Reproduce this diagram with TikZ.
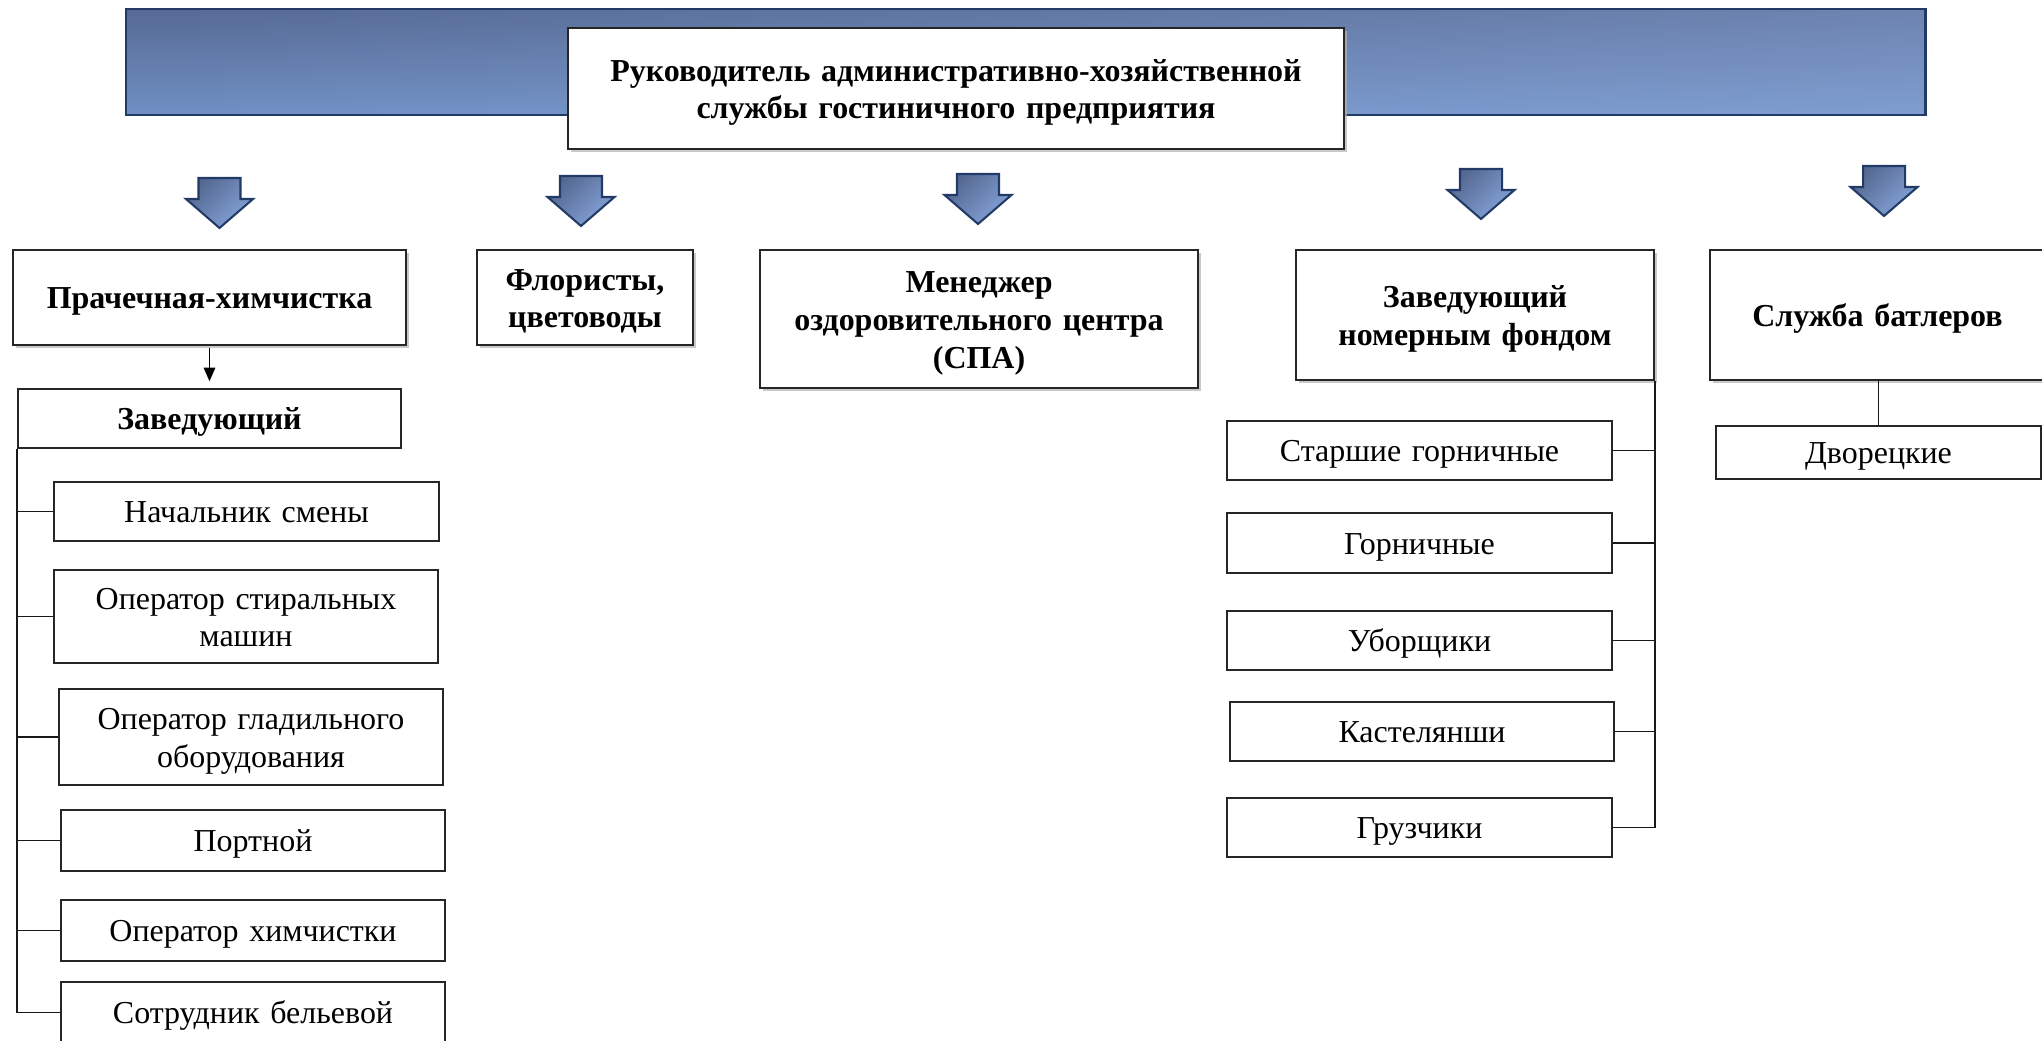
\documentclass[tikz,border=0pt]{standalone}
\usepackage{fontspec}
\setmainfont{Liberation Serif}
\usetikzlibrary{positioning, shadows, arrows.meta, fadings}
\definecolor{bantop}{HTML}{566A94}
\definecolor{banbottom}{HTML}{7090C4}
\definecolor{banglow}{HTML}{A0BCEE}
\definecolor{bandark}{HTML}{53678F}
\definecolor{banlight}{HTML}{86A4DA}
\definecolor{bannavy}{HTML}{213A66}
\tikzfading[name=banfade, left color=transparent!100, right color=transparent!68]

\begin{document}
\begin{tikzpicture}[x=0.0154cm, y=-0.0154cm, line width=0.7pt,
    > = {Triangle[length=6pt, width=5pt]},
    sz/.style 2 args = {minimum width=#1*0.0154cm, minimum height=#2*0.0154cm, text width=(#1-14)*0.0154cm},
    txtpad/.style = {execute at begin node={\rule{0pt}{13pt}}, execute at end node={\rule[-3pt]{0pt}{3pt}}},
    headbox/.style = {draw=black!85, fill=white, align=center, inner sep=2pt, txtpad,
        font=\fontsize{14}{16.5}\selectfont\bfseries,
        drop shadow={shadow xshift=1.2pt, shadow yshift=-1.2pt, fill=black!30, opacity=0.7}},
    unitbox/.style = {draw=black!85, fill=white, align=center, inner sep=2pt, txtpad,
        font=\fontsize{14}{16.5}\selectfont},
    link/.style = {draw=black!90, line width=0.8pt},
    bigarrow/.pic = {\draw[bannavy, line width=0.9pt, top color=bandark, bottom color=banlight, shading angle=45]
        (-21,0) -- (21,0) -- (21,21) -- (33.5,21) -- (0,50) -- (-33.5,21) -- (-21,21) -- cycle;},
  ]
    \useasboundingbox (0,0) rectangle (2042,1040);

    % banner and head
    \shade[top color=bantop, bottom color=banbottom] (126,9) rectangle (1925,115);
    \fill[banglow, path fading=banfade] (126,9) rectangle (1925,115);
    \draw[bannavy, line width=1.3pt] (126,9) rectangle (1925,115);
    \node[headbox, sz={776}{121}] (boss) at (956,88.5) {Руководитель административно-хозяйственной\\службы гостиничного предприятия};

    \pic at (219.5,178) {bigarrow};
    \pic at (581,176) {bigarrow};
    \pic at (978,174) {bigarrow};
    \pic at (1481,169) {bigarrow};
    \pic at (1884,166) {bigarrow};

    % first level
    \node[headbox, sz={393}{95}] (laundry) at (209.5,297.5) {Прачечная-химчистка};
    \node[headbox, sz={216}{95}] (florist) at (585,297.5) {Флористы,\\цветоводы};
    \node[headbox, sz={438}{138}] (spa) at (979,319) {Менеджер\\оздоровительного центра\\(СПА)};
    \node[headbox, sz={358}{130}] (rooms) at (1475,315) {Заведующий\\номерным фондом};
    \node[headbox, sz={335}{130}] (butler) at (1877.5,315) {Служба батлеров};

    % laundry staff
    \node[unitbox, sz={383}{59}, font=\fontsize{14}{16.5}\selectfont\bfseries] (lhead) at (209.5,418.5) {Заведующий};
    \node[unitbox, sz={385}{59}] (shift) at (246.5,511.5) {Начальник смены};
    \node[unitbox, sz={384}{93}] (washer) at (246,616.5) {Оператор стиральных\\машин};
    \node[unitbox, sz={384}{96}] (ironer) at (251,737) {Оператор гладильного\\оборудования};
    \node[unitbox, sz={384}{61}] (tailor) at (253,840.5) {Портной};
    \node[unitbox, sz={384}{61}] (cleaner) at (253,930.5) {Оператор химчистки};
    \node[unitbox, sz={384}{61}] (linen) at (253,1012.5) {Сотрудник бельевой};

    \draw[->, line width=0.8pt, shorten >=3pt, shorten <=1pt] (laundry.south) -- (lhead.north);
    \draw[link] (lhead.south west) |- (linen.west);
    \draw[link] (shift.west) -- (lhead.south west |- shift.west);
    \draw[link] (washer.west) -- (lhead.south west |- washer.west);
    \draw[link] (ironer.west) -- (lhead.south west |- ironer.west);
    \draw[link] (tailor.west) -- (lhead.south west |- tailor.west);
    \draw[link] (cleaner.west) -- (lhead.south west |- cleaner.west);

    % room staff
    \node[unitbox, sz={385}{59}] (senior) at (1419.5,450.5) {Старшие горничные};
    \node[unitbox, sz={385}{60}] (maids) at (1419.5,543) {Горничные};
    \node[unitbox, sz={385}{59}] (sweep) at (1419.5,640.5) {Уборщики};
    \node[unitbox, sz={384}{59}] (keeper) at (1422,731.5) {Кастелянши};
    \node[unitbox, sz={385}{59}] (porter) at (1419.5,827.5) {Грузчики};

    \draw[link] (rooms.south east) |- (porter.east);
    \draw[link] (senior.east) -- (rooms.south east |- senior.east);
    \draw[link] (maids.east) -- (rooms.south east |- maids.east);
    \draw[link] (sweep.east) -- (rooms.south east |- sweep.east);
    \draw[link] (keeper.east) -- (rooms.south east |- keeper.east);

    % butlers
    \node[unitbox, sz={325}{53}] (steward) at (1878.5,452.5) {Дворецкие};
    \draw[link] (steward.north) -- (steward.north |- butler.south);
\end{tikzpicture}
\end{document}
